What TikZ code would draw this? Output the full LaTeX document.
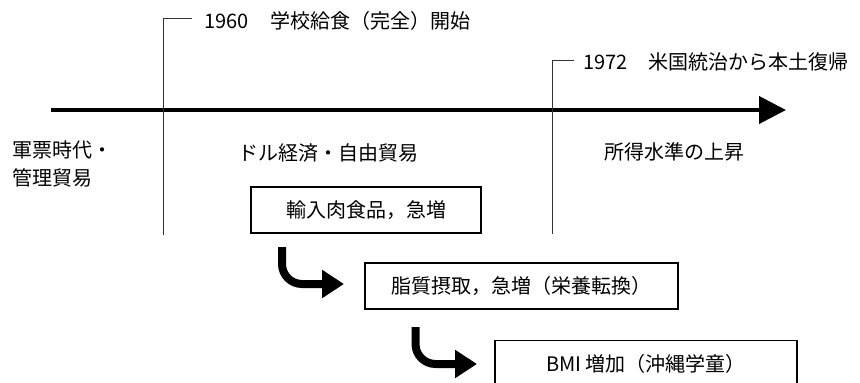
\documentclass[tikz,border=0pt]{standalone}
\usepackage{fontspec}
\setmainfont{Noto Sans CJK JP}
\usetikzlibrary{arrows.meta}
\tikzset{
  lbl/.style={inner sep=0pt, font=\fontsize{20}{28}\selectfont},
  boxnode/.style={draw=black, line width=1.1pt, fill=white, inner sep=0pt, minimum height=46pt, font=\fontsize{20}{24}\selectfont},
  period/.style={draw=black!80, line width=0.9pt},
  bentarrow/.style={line width=8pt, rounded corners=20pt, -{Triangle[width=27pt,length=22pt]}},
}
\begin{document}
\begin{tikzpicture}[x=1pt,y=-1pt]
\useasboundingbox (0,0) rectangle (860,383);
\clip (0,0) rectangle (860,383);
% timeline
\coordinate (tstart) at (51,110);
\coordinate (tend) at (786,110);
\draw[line width=4pt, -{Triangle[width=27pt,length=27pt]}] (tstart) -- (tend);
% period separators
\coordinate (v1bot) at (163,235);
\coordinate (v1top) at (163,18);
\coordinate (v1tick) at (192,18);
\draw[period] (v1bot) -- (v1top) -- (v1tick);
\coordinate (v2bot) at (552,234);
\coordinate (v2top) at (552,60);
\coordinate (v2tick) at (574,60);
\draw[period] (v2bot) -- (v2top) -- (v2tick);
% event labels
\node[lbl, anchor=west] (e1960) at (204,21) {1960\hspace{22pt}学校給食（完全）開始};
\node[lbl, anchor=west] (e1972) at (583,62) {1972\hspace{21pt}米国統治から本土復帰};
% period labels
\node[lbl, anchor=west, align=left] (p1) at (12,164) {軍票時代・\\管理貿易};
\node[lbl] (p2) at (328,153) {ドル経済・自由貿易};
\node[lbl] (p3) at (674,152) {所得水準の上昇};
% boxes
\node[boxnode, minimum width=230pt] (b1) at (366,210) {輸入肉食品，急増};
\node[boxnode, minimum width=313pt] (b2) at (521.5,286) {脂質摂取，急増（栄養転換）};
\node[boxnode, minimum width=302pt, anchor=north] (b3) at (646,340) {BMI 増加（沖縄学童）};
% bent arrows
\coordinate (a1s) at (282,247);
\coordinate (a1e) at (344,284);
\draw[bentarrow] (a1s) |- (a1e);
\coordinate (a2s) at (415.5,327);
\coordinate (a2e) at (477,364);
\draw[bentarrow] (a2s) |- (a2e);
\end{tikzpicture}
\end{document}
